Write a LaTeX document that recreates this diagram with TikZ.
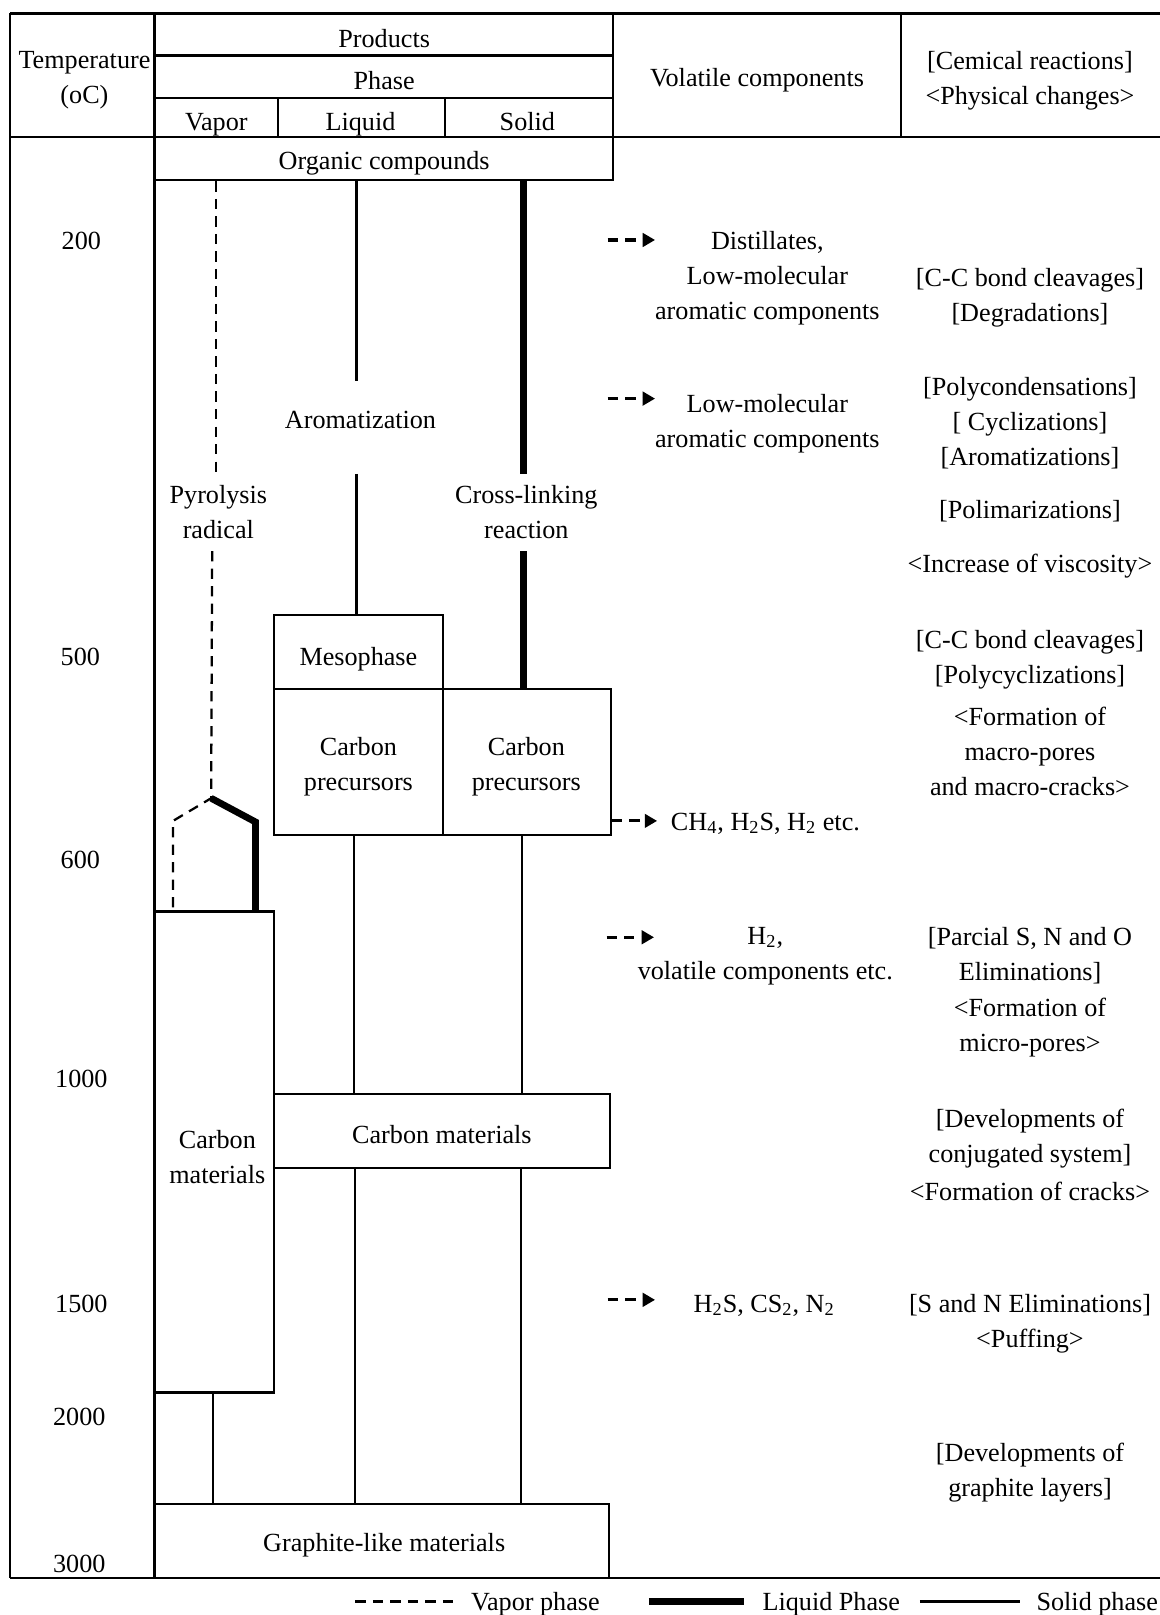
\documentclass[tikz,border=0pt]{standalone}
\usepackage{fontspec}
\setmainfont{Liberation Serif}
\usetikzlibrary{arrows.meta,fit}
\begin{document}
\begin{tikzpicture}[x=0.5pt,y=-0.5pt,
  every node/.style={font=\fontsize{12.7}{17}\selectfont, inner sep=0pt, align=center},
  sl/.style={text height=8.8pt, text depth=2.8pt},
  boxnode/.style={draw, line width=1.1pt, inner sep=0pt},
  gridline/.style={line width=1.1pt},
  vapline/.style={line width=1.1pt, dash pattern=on 5pt off 3.5pt},
  liqline/.style={line width=3.3pt},
  solline/.style={line width=1.1pt},
  volarrow/.style={line width=1.5pt, dash pattern=on 5pt off 3.5pt, -{Triangle[length=6pt,width=6.5pt]}},
]
\useasboundingbox (0,0) rectangle (1126,1568);

% ---------- table frame ----------
\draw[gridline] (10,13) -- (1126,13);
\draw[gridline] (10,133) -- (1126,133);
\draw[gridline] (10,1532) -- (1126,1532);
\draw[gridline] (10,13) -- (10,1532);
\draw[gridline] (150,13) -- (150,1532);
\draw[gridline] (595,13) -- (595,133);
\draw[gridline] (875,13) -- (875,133);
\draw[gridline] (150,54) -- (595,54);
\draw[gridline] (150,95) -- (595,95);
\draw[gridline] (270,95) -- (270,133);
\draw[gridline] (432,95) -- (432,133);

% ---------- header texts ----------
\node (hTemp) at (82,78) {Temperature\\(oC)};
\node[sl] (hProd) at (373,40) {Products};
\node[sl] (hPhase) at (373,81) {Phase};
\node[sl] (hVap) at (210,121) {Vapor};
\node[sl] (hLiq) at (350,121) {Liquid};
\node[sl] (hSol) at (512,121) {Solid};
\node[sl] (hVol) at (735,78) {Volatile components};
\node (hReac) at (1000,78) {[Cemical reactions]\\<Physical changes>};

% ---------- temperatures ----------
\node[sl] (t200) at (79,236) {200};
\node[sl] (t500) at (78,640) {500};
\node[sl] (t600) at (78,837) {600};
\node[sl] (t1000) at (79,1050) {1000};
\node[sl] (t1500) at (79,1268) {1500};
\node[sl] (t2000) at (77,1378) {2000};
\node[sl] (t3000) at (77,1521) {3000};

% ---------- boxes ----------
\node[boxnode, fit={(150,133) (595,175)}] (org) {};
\node[boxnode, fit={(266,597) (430,669)}] (meso) {};
\node[boxnode, fit={(266,669) (430,811)}] (precL) {};
\node[boxnode, fit={(430,669) (593,811)}] (precR) {};
\node[boxnode, fit={(150,885) (266,1352)}] (tall) {};
\node[boxnode, fit={(266,1062) (592,1134)}] (cmat) {};
\node[boxnode, fit={(150,1460) (591,1532)}] (graph) {};

\node[sl] (orgT) at (373,159) {Organic compounds};
\node[sl] (mesoT) at (348,640) {Mesophase};
\node (precLT) at (348,744) {Carbon\\precursors};
\node (precRT) at (511,744) {Carbon\\precursors};
\node (tallT) at (211,1123) {Carbon\\materials};
\node[sl] (cmatT) at (429,1104) {Carbon materials};
\node[sl] (graphT) at (373,1500) {Graphite-like materials};

% ---------- column labels ----------
\node[sl] (arom) at (350,410) {Aromatization};
\node (pyro) at (212,497) {Pyrolysis\\radical};
\node (cross) at (511,497) {Cross-linking\\reaction};

% ---------- vapor column ----------
\coordinate (pyT) at (210,460);
\coordinate (pyB) at (206,535);
\coordinate (J) at (205,775);
\coordinate (jl) at (168,797);
\coordinate (jr) at (248,798);
\draw[vapline] (org.south -| pyT) -- (pyT);
\draw[vapline] (pyB) -- (J) -- (jl) -- (jl |- tall.north);
\draw[liqline] (J) -- (jr) -- (jr |- tall.north);
\coordinate (vb) at (207,0);
\draw[solline] (tall.south -| vb) -- (vb |- graph.north);

% ---------- liquid column ----------
\coordinate (aT) at (346,370);
\coordinate (aB) at (346,460);
\draw[solline] (org.south -| aT) -- (aT);
\draw[solline] (aB) -- (aB |- meso.north);
\coordinate (lqA) at (344,0);
\coordinate (lqB) at (345,0);
\draw[solline] (precL.south -| lqA) -- (lqA |- cmat.north);
\draw[solline] (cmat.south -| lqB) -- (lqB |- graph.north);

% ---------- solid column ----------
\coordinate (cT) at (508,460);
\coordinate (cB) at (508,535);
\draw[liqline] (org.south -| cT) -- (cT);
\draw[liqline] (cB) -- (cB |- precR.north);
\coordinate (sdA) at (507,0);
\coordinate (sdB) at (506,0);
\draw[solline] (precR.south -| sdA) -- (sdA |- cmat.north);
\draw[solline] (cmat.south -| sdB) -- (sdB |- graph.north);

% ---------- volatile components ----------
\node (vol1) at (745,270) {Distillates,\\Low-molecular\\aromatic components};
\coordinate (a1s) at (590,233); \coordinate (a1e) at (636,233);
\draw[volarrow] (a1s) -- (a1e);

\node (vol2) at (745,411) {Low-molecular\\aromatic components};
\coordinate (a2s) at (590,387); \coordinate (a2e) at (636,387);
\draw[volarrow] (a2s) -- (a2e);

\node[sl, anchor=west] (vol3) at (651,800) {CH\textsubscript{4}, H\textsubscript{2}S, H\textsubscript{2} etc.};
\coordinate (a3e) at (638,797);
\draw[volarrow] (precR.east |- a3e) -- (a3e);

\node (vol4) at (743,928) {H\textsubscript{2},\\volatile components etc.};
\coordinate (a4s) at (589,910); \coordinate (a4e) at (635,910);
\draw[volarrow] (a4s) -- (a4e);

\node[sl] (vol5) at (742,1268) {H\textsubscript{2}S, CS\textsubscript{2}, N\textsubscript{2}};
\coordinate (a5s) at (590,1262); \coordinate (a5e) at (636,1262);
\draw[volarrow] (a5s) -- (a5e);

% ---------- reactions / changes ----------
\node (r1) at (1000,289) {[C-C bond cleavages]\\{}[Degradations]};
\node (r2) at (1000,411) {[Polycondensations]\\{}[ Cyclizations]\\{}[Aromatizations]};
\node[sl] (r3) at (1000,497) {[Polimarizations]};
\node[sl] (r4) at (1000,550) {<Increase of viscosity>};
\node (r5) at (1000,641) {[C-C bond cleavages]\\{}[Polycyclizations]};
\node (r6) at (1000,730) {<Formation of\\macro-pores\\and macro-cracks>};
\node (r7) at (1000,928) {[Parcial S, N and O\\Eliminations]};
\node (r8) at (1000,998) {<Formation of\\micro-pores>};
\node (r9) at (1000,1105) {[Developments of\\conjugated system]};
\node[sl] (r10) at (1000,1160) {<Formation of cracks>};
\node (r11) at (1000,1285) {[S and N Eliminations]\\<Puffing>};
\node (r12) at (1000,1430) {[Developments of\\graphite layers]};

% ---------- legend ----------
\node[sl, anchor=west] (lgV) at (457,1558) {Vapor phase};
\node[sl, anchor=west] (lgL) at (740,1558) {Liquid Phase};
\node[sl, anchor=west] (lgS) at (1006,1558) {Solid phase};
\coordinate (lv1) at (345,1555); \coordinate (lv2) at (440,1555);
\coordinate (ll1) at (630,1555); \coordinate (ll2) at (722,1555);
\coordinate (ls1) at (893,1555); \coordinate (ls2) at (990,1555);
\draw[vapline] (lv1) -- (lv2);
\draw[liqline] (ll1) -- (ll2);
\draw[solline] (ls1) -- (ls2);
\end{tikzpicture}
\end{document}
